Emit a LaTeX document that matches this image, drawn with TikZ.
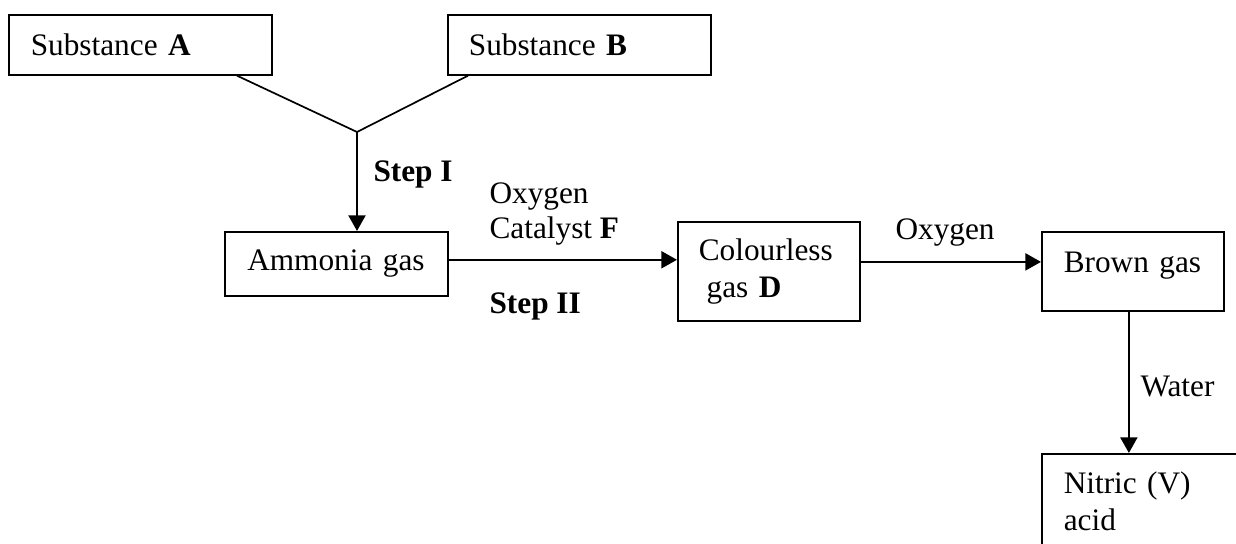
\documentclass[tikz,border=0pt]{standalone}
\usepackage{fontspec}
\setmainfont{Liberation Serif}
\usepackage{tikz}
\usetikzlibrary{arrows.meta,calc}

\begin{document}
\begin{tikzpicture}[x=0.3834pt,y=-0.3834pt,
    every node/.style={font=\fontsize{12}{14.2}\selectfont},
    chembox/.style={draw,line width=0.65pt,anchor=north west,align=left,inner ysep=0pt},
    lbl/.style={anchor=base west,inner sep=0pt},
    arr/.style={line width=0.85pt,-{Triangle[length=6pt,width=6.5pt]}}]
            \useasboundingbox (0,0) rectangle (1236,544);

            % boxes
            \node[chembox,inner xsep=8.4pt,text width=84pt,minimum height=23pt] (subA) at (8,14) {Substance \textbf{A}};
            \node[chembox,inner xsep=8.05pt,text width=84.7pt,minimum height=23pt] (subB) at (447,14) {Substance \textbf{B}};
            \node[chembox,inner xsep=8.6pt,text width=68.3pt,minimum height=24.5pt] (amm) at (224,231) {Ammonia gas};
            \node[chembox,inner xsep=8.05pt,text width=53.7pt,minimum height=38pt] (col) at (677,221) {Colourless\\\hspace*{3pt}gas \textbf{D}};
            \node[chembox,inner xsep=8.4pt,text width=53pt,minimum height=30.3pt,text depth=7pt] (brown) at (1041,231) {Brown gas};
            \node[chembox,inner xsep=8.4pt,inner ysep=7pt,text width=67.5pt,text depth=40pt] (nitric) at (1041,453) {Nitric (V)\\acid};

            % joining lines
            \coordinate (J) at (357,132);
            \draw[line width=0.65pt] ($(subA.south west)+(229,0)$) -- (J) -- ($(subB.south west)+(21,0)$);
            \draw[arr] (J) -- (J |- amm.north);

            \coordinate (s2) at ($(amm.east)+(0,-4)$);
            \draw[arr] (s2) -- (s2 -| col.west);
            \coordinate (s3) at ($(col.east)+(0,-9.5)$);
            \draw[arr] (s3) -- (s3 -| brown.west);
            \coordinate (s4) at ($(brown.south)+(-4,0)$);
            \draw[arr] (s4) -- (s4 |- nitric.north);

            % labels
            \node[lbl] (stepI) at (373,182) {\textbf{Step I}};
            \node[lbl] (oxA) at (489,204) {Oxygen};
            \node[lbl] (catF) at (489,239) {Catalyst \textbf{F}};
            \node[lbl] (stepII) at (489,314) {\textbf{Step II}};
            \node[lbl] (oxB) at (895,240) {Oxygen};
            \node[lbl] (water) at (1140,397) {Water};
\end{tikzpicture}
\end{document}
